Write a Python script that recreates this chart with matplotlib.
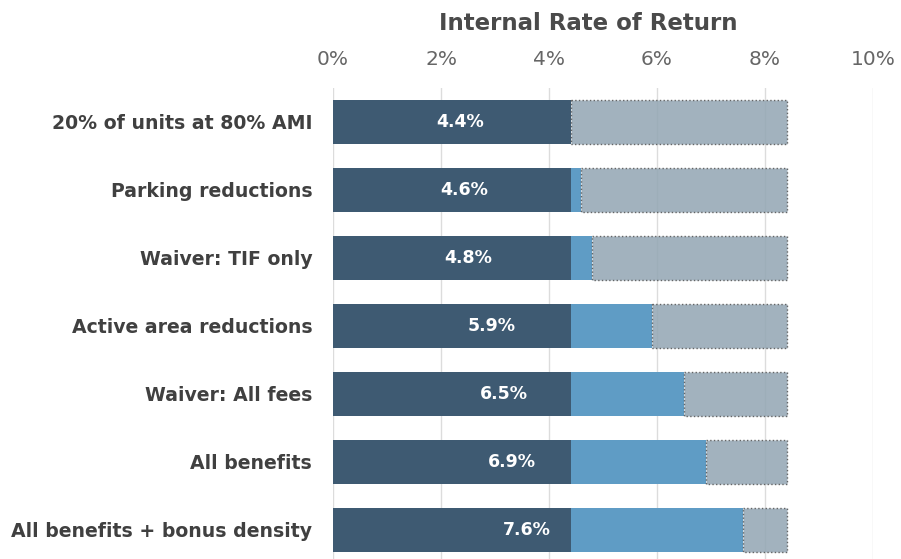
import matplotlib.pyplot as plt
import numpy as np

# datos del grafico
escenarios = ["20% of units at 80% AMI", "Parking reductions", "Waiver: TIF only",
              "Active area reductions", "Waiver: All fees", "All benefits",
              "All benefits + bonus density"]
tir = [4.4, 4.6, 4.8, 5.9, 6.5, 6.9, 7.6]  # %
tir_base = 4.4   # tramo oscuro
tir_meta = 8.4   # fin del tramo gris
ticks = [0, 2, 4, 6, 8, 10]

C_OSCURO = "#3e5a72"
C_AZUL = "#5f9cc5"
C_GRIS = "#95a8b5"

fig = plt.figure(figsize=(9.01, 5.59), dpi=100)
ax = fig.add_axes([0.3696, 0.0, 0.5993, 0.8426])

y = np.arange(len(escenarios))
alto = 0.65

ax.barh(y, [tir_base] * len(y), height=alto, color=C_OSCURO, zorder=3)
extra = [max(v - tir_base, 0) for v in tir]
ax.barh(y, extra, left=tir_base, height=alto, color=C_AZUL, zorder=3)
resto = [tir_meta - max(v, tir_base) for v in tir]
ax.barh(y, resto, left=[max(v, tir_base) for v in tir], height=alto,
        color=C_GRIS, alpha=0.88, edgecolor="#555555", linestyle=":",
        linewidth=1.0, zorder=3)

for yi, v in zip(y, tir):
    ax.text(0.39 * v + 0.63, yi, f"{v:.1f}%", color="white", fontsize=12.5,
            fontweight="bold", ha="center", va="center", zorder=4)

ax.set_xlim(0, 10)
ax.set_ylim(6.43, -0.5)
ax.xaxis.tick_top()
ax.set_xticks(ticks)
ax.set_xticklabels([f"{t}%" for t in ticks], fontsize=14.5, color="#666666")
ax.tick_params(axis="x", length=0, pad=14)
ax.set_yticks(y)
ax.set_yticklabels(escenarios, fontsize=13.6, fontweight="bold", color="#404040")
ax.tick_params(axis="y", length=0, pad=15)
ax.grid(axis="x", color="#dcdcdc", linewidth=1, zorder=0)
ax.set_axisbelow(True)
for s in ax.spines.values():
    s.set_visible(False)

fig.text(0.6526, 0.958, "Internal Rate of Return", ha="center", va="center",
         fontsize=16.5, fontweight="bold", color="#4a4a4a")

plt.savefig("out.png", dpi=100)
